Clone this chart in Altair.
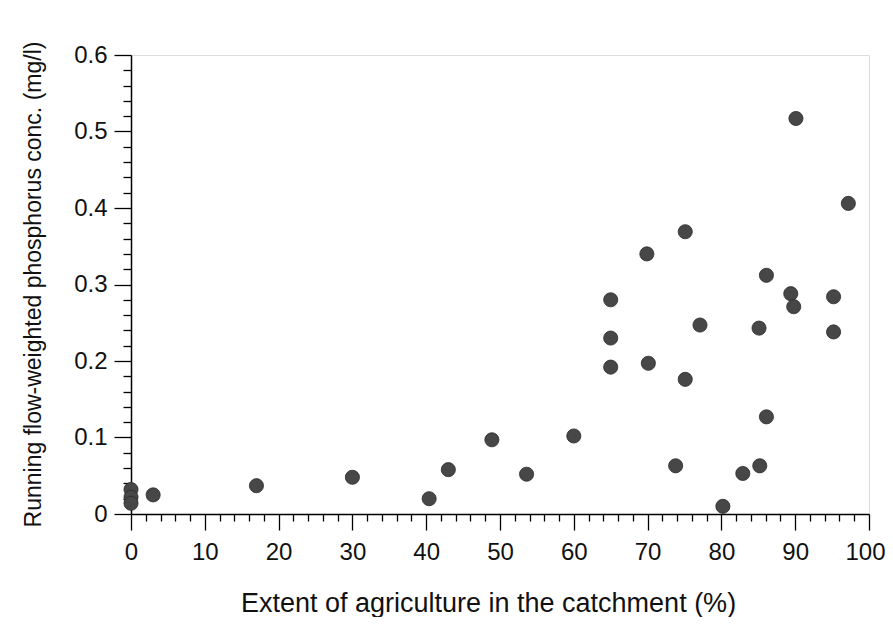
import altair as alt
import pandas as pd

# Data
agri_pct = [0, 0, 0, 3.0, 17.0, 30.0, 40.4, 43.0, 48.9, 53.6, 60.0,
            65.0, 65.0, 65.0, 69.9, 70.1, 73.8, 75.1, 75.1, 77.1, 80.2,
            82.9, 85.1, 85.2, 86.1, 86.1, 89.4, 89.8, 90.1, 95.2, 95.2, 97.2]
phos_conc = [0.032, 0.022, 0.014, 0.025, 0.037, 0.048, 0.020, 0.058, 0.097, 0.052, 0.102,
             0.280, 0.230, 0.192, 0.340, 0.197, 0.063, 0.369, 0.176, 0.247, 0.010,
             0.053, 0.243, 0.063, 0.312, 0.127, 0.288, 0.271, 0.517, 0.284, 0.238, 0.406]

x_ticks = list(range(0, 101, 2))
y_ticks = [round(i * 0.02, 2) for i in range(31)]

df = pd.DataFrame({"x": agri_pct, "y": phos_conc})

FONT = "Liberation Sans"

x_axis = alt.Axis(
    values=x_ticks,
    title="Extent of agriculture in the catchment (%)",
    labelExpr="datum.value % 10 == 0 ? datum.label : ''",
    tickSize={"condition": {"test": "datum.value % 10 == 0", "value": 16}, "value": 7},
    labelOffset={"condition": {"test": "datum.value == 100", "value": -4}, "value": 0},
    labelOverlap=False, labelFlush=False, labelPadding=10,
    labelFont=FONT, labelFontSize=24, labelColor="#111",
    titleFont=FONT, titleFontSize=27, titleFontWeight="normal", titleColor="#111",
    titleX=357, titleY=97, titleBaseline="alphabetic", titleAlign="center",
    grid=False, domainColor="#000", domainWidth=1.5, tickColor="#000", tickWidth=1.3,
)

y_axis = alt.Axis(
    values=y_ticks,
    title="Running flow-weighted phosphorus conc. (mg/l)",
    labelExpr="abs(datum.value*10 - round(datum.value*10)) < 0.001 ? (datum.value == 0 ? '0' : format(datum.value, '.1f')) : ''",
    tickSize={"condition": {"test": "abs(datum.value*10 - round(datum.value*10)) < 0.001", "value": 17}, "value": 8},
    labelOverlap=False, labelFlush=False, labelPadding=7,
    labelFont=FONT, labelFontSize=24, labelColor="#111",
    titleFont=FONT, titleFontSize=23, titleFontWeight="normal", titleColor="#111",
    titleX=-91, titleY=229, titleBaseline="alphabetic", titleAlign="center", titleAngle=270,
    grid=False, domainColor="#000", domainWidth=1.5, tickColor="#000", tickWidth=1.3,
)

chart = alt.Chart(df).mark_circle(
    size=200, color="#474747", opacity=1, stroke="#2a2a2a", strokeWidth=0.8
).encode(
    x=alt.X("x:Q", scale=alt.Scale(domain=[0, 100], nice=False, zero=False), axis=x_axis),
    y=alt.Y("y:Q", scale=alt.Scale(domain=[0, 0.6], nice=False), axis=y_axis),
).properties(
    width=738, height=459,
    padding={"left": 123, "top": 47, "right": 16, "bottom": 103},
    autosize=alt.AutoSizeParams(type="none"),
).configure_view(
    stroke="#000", strokeWidth=1.5
).configure(background="white")

chart.save("out.html", embed_options={"renderer": "svg", "actions": False})
